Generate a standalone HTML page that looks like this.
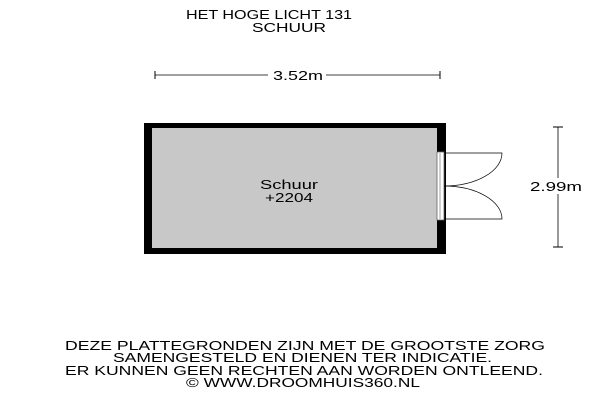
<!DOCTYPE html>
<html><head><style>
body{margin:0;background:#fff;width:600px;height:400px;overflow:hidden;font-family:"Liberation Sans",sans-serif;}
</style></head><body>
<svg width="600" height="400" style="position:absolute;left:0;top:0" font-family="Liberation Sans, sans-serif">
<g font-size="12.5" lengthAdjust="spacingAndGlyphs">
<text x="186" y="19" textLength="166" lengthAdjust="spacingAndGlyphs">HET HOGE LICHT 131</text>
<text x="252" y="32" textLength="74" lengthAdjust="spacingAndGlyphs">SCHUUR</text>
</g>
<line x1="155" y1="75" x2="440" y2="75" stroke="#000" stroke-width="0.8"/>
<line x1="155" y1="71" x2="155" y2="79" stroke="#000"/>
<line x1="440" y1="71" x2="440" y2="79" stroke="#000"/>
<rect x="268" y="67" width="58" height="14" fill="#fff"/>
<text x="273" y="80" font-size="13" textLength="50" lengthAdjust="spacingAndGlyphs">3.52m</text>
<rect x="144" y="123" width="302" height="131" fill="#000"/>
<rect x="152" y="128" width="285" height="120" fill="#c8c8c8"/>
<rect x="437" y="152" width="7" height="68" fill="#fff" stroke="#666" stroke-width="0.8"/>
<line x1="440" y1="153" x2="440" y2="219" stroke="#888" stroke-width="0.8"/>
<path d="M444 153 L502 153 A58 33 0 0 1 444 186" fill="none" stroke="#000" stroke-width="0.7"/>
<path d="M444 219 L502 219 A58 33 0 0 0 444 186" fill="none" stroke="#000" stroke-width="0.7"/>
<line x1="558" y1="127" x2="558" y2="247" stroke="#000" stroke-width="0.8"/>
<line x1="553" y1="127" x2="563" y2="127" stroke="#000"/>
<line x1="553" y1="247" x2="563" y2="247" stroke="#000"/>
<rect x="530" y="178" width="52" height="16" fill="#fff"/>
<text x="530" y="191" font-size="13" textLength="52" lengthAdjust="spacingAndGlyphs">2.99m</text>
<text x="260" y="189" font-size="12.5" textLength="58" lengthAdjust="spacingAndGlyphs">Schuur</text>
<text x="265" y="202" font-size="12.5" textLength="48" lengthAdjust="spacingAndGlyphs">+2204</text>
<g font-size="12.5">
<text x="65" y="350" textLength="480" lengthAdjust="spacingAndGlyphs">DEZE PLATTEGRONDEN ZIJN MET DE GROOTSTE ZORG</text>
<text x="113" y="362" textLength="379" lengthAdjust="spacingAndGlyphs">SAMENGESTELD EN DIENEN TER INDICATIE.</text>
<text x="65" y="375" textLength="478" lengthAdjust="spacingAndGlyphs">ER KUNNEN GEEN RECHTEN AAN WORDEN ONTLEEND.</text>
<text x="186" y="387" textLength="234" lengthAdjust="spacingAndGlyphs">© WWW.DROOMHUIS360.NL</text>
</g>
</svg>
</body></html>
